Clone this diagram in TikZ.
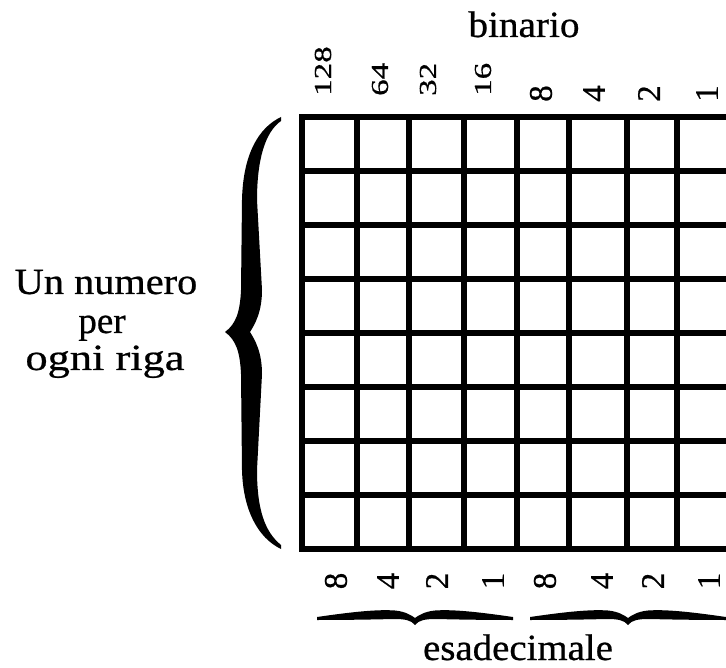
\documentclass[tikz,border=0pt]{standalone}
\usepackage{graphicx}
\usepackage{fontspec}
\setmainfont{Liberation Serif}
\newfontfamily\inkfont[FakeBold=0.6]{Liberation Serif}
\begin{document}
\begin{tikzpicture}[x=1pt,y=-1pt,
  gridline/.style={line width=5.5pt, line cap=rect},
  word/.style={inner sep=0pt, anchor=base, font=\inkfont\fontsize{37}{38}\selectfont},
  digit/.style={inner sep=0pt, rotate=90, font=\inkfont\fontsize{33}{33}\selectfont},
  pics/hbrace/.style={code={
    \fill (-98,5) .. controls (-70,1) and (-40,-3) .. (-20,-1.5)
      .. controls (-10,-0.5) and (-4,3) .. (0,6)
      .. controls (4,3) and (10,-0.5) .. (20,-1.5)
      .. controls (40,-3) and (70,1) .. (98,5)
      -- (98,8) .. controls (70,8) and (40,7.5) .. (22,7)
      .. controls (10,7) and (4,8) .. (0,13)
      .. controls (-4,8) and (-10,7) .. (-22,7)
      .. controls (-40,7.5) and (-70,8) .. (-98,8) -- cycle;
  }}
]
\useasboundingbox (0,0) rectangle (726,668);

% the table: eight rows, eight bit columns (last one runs off the page)
\begin{scope}
  \clip (0,0) rectangle (726,668);
  \foreach \yy in {117,171,225,279,333,387,441,495,549}
    \draw[gridline] (302,\yy) -- (745,\yy);
  \foreach \xx in {302,357,409,464,517,569,627,677,735}
    \draw[gridline] (\xx,117) -- (\xx,549);
\end{scope}

% binary weights above the columns (two- and three-digit ones condensed)
\node[word] (bin) at (524,37) {\scalebox{1.06}[1]{binario}};
\foreach \xx/\w [count=\i] in {323/128,380/64,428/32,483/16}
  \node[digit, anchor=west] (top\i) at (\xx,96) {\scalebox{1}[0.74]{\w}};
\foreach \xx/\w [count=\i from 5] in {541/8,594/4,649/2,707/1}
  \node[digit, anchor=west] (top\i) at (\xx,102) {\w};

% hexadecimal weights below the columns
\foreach \xx/\w [count=\i] in {336/8,388/4,437/2,493/1,545/8,602/4,653/2,709/1}
  \node[digit, anchor=center] (bot\i) at (\xx,581) {\w};

% braces grouping the nibbles
\pic at (415,612) {hbrace};
\pic at (628,612) {hbrace};
\node[word] (hex) at (518,660) {\scalebox{1.05}[1]{esadecimale}};

% big brace spanning the rows
\fill (281,117) .. controls (258,128) and (243,155) .. (242,200)
  -- (241,290) .. controls (240,312) and (236,324) .. (225,332)
  .. controls (236,340) and (240,352) .. (241,374)
  -- (242,470) .. controls (243,510) and (258,538) .. (281,549)
  -- (281,545) .. controls (265,532) and (257,510) .. (257,470)
  -- (262,374) .. controls (262,352) and (255,340) .. (250,332)
  .. controls (255,324) and (262,312) .. (262,290)
  -- (257,200) .. controls (257,160) and (265,132) .. (281,121) -- cycle;

\node[word] (l1) at (106,294) {\scalebox{1.09}[1]{Un numero}};
\node[word] (l2) at (102,333) {per};
\node[word] (l3) at (105,370) {\scalebox{1.2}[1]{ogni riga}};
\end{tikzpicture}
\end{document}
